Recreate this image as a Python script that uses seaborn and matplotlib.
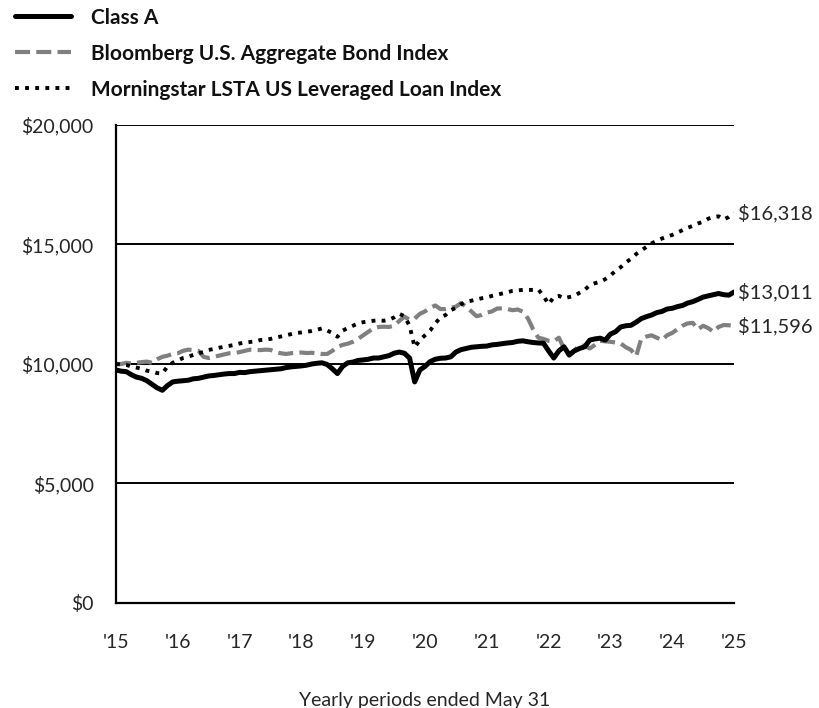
import numpy as np
import pandas as pd
import matplotlib
matplotlib.use("Agg")
import matplotlib.pyplot as plt
import seaborn as sns

# monthly values, May 2015 .. May 2025 (hypothetical $10,000 investment)
class_a = [
    9750, 9700, 9680, 9550, 9450, 9400, 9300, 9150, 9000, 8900, 9100, 9250,
    9280, 9300, 9320, 9380, 9400, 9450, 9500, 9520, 9550, 9580, 9600, 9600,
    9650, 9640, 9680, 9700, 9720, 9740, 9760, 9780, 9800, 9850, 9880, 9900,
    9920, 9950, 10000, 10030, 10050, 9980, 9800, 9600, 9900, 10050, 10080, 10150,
    10170, 10200, 10250, 10250, 10300, 10350, 10450, 10500, 10450, 10250, 9250, 9750,
    9900, 10100, 10200, 10240, 10250, 10300, 10500, 10600, 10650, 10700, 10720, 10740,
    10750, 10800, 10820, 10850, 10880, 10900, 10950, 10970, 10930, 10900, 10880, 10870,
    10550, 10250, 10550, 10720, 10380, 10550, 10650, 10720, 11000, 11050, 11080, 11000,
    11250, 11350, 11550, 11600, 11620, 11750, 11900, 11980, 12050, 12150, 12200, 12300,
    12330, 12400, 12450, 12550, 12610, 12700, 12800, 12850, 12900, 12950, 12900, 12880,
    13011,
]
bloomberg_agg = [
    10000, 10000, 10050, 10020, 10050, 10080, 10100, 10050, 10200, 10300, 10350, 10420,
    10450, 10550, 10600, 10580, 10550, 10300, 10250, 10300, 10350, 10400, 10450, 10450,
    10500, 10550, 10600, 10590, 10580, 10600, 10590, 10500, 10450, 10420, 10450, 10470,
    10480, 10460, 10470, 10450, 10420, 10420, 10550, 10720, 10800, 10850, 10930, 11050,
    11200, 11350, 11500, 11550, 11560, 11550, 11600, 11800, 11980, 11850, 11900, 12100,
    12200, 12350, 12450, 12300, 12300, 12350, 12400, 12550, 12400, 12200, 12000, 12050,
    12150, 12200, 12320, 12330, 12300, 12250, 12280, 12190, 11900, 11450, 11100, 11050,
    10970, 10950, 11100, 10650, 10350, 10550, 10800, 10750, 10650, 10800, 10970, 10950,
    10930, 10900, 10860, 10700, 10590, 10330, 11070, 11150, 11200, 11100, 11000, 11200,
    11300, 11450, 11600, 11700, 11720, 11450, 11600, 11500, 11350, 11550, 11630, 11620,
    11596,
]
lsta_loan = [
    10000, 9980, 9960, 9900, 9850, 9800, 9720, 9680, 9620, 9600, 9900, 10050,
    10150, 10250, 10300, 10380, 10450, 10500, 10590, 10630, 10680, 10720, 10760, 10800,
    10860, 10890, 10920, 10950, 11000, 11020, 11050, 11100, 11150, 11200, 11250, 11300,
    11320, 11350, 11380, 11430, 11490, 11400, 11300, 11140, 11400, 11500, 11600, 11700,
    11750, 11780, 11810, 11830, 11810, 11850, 11950, 12100, 12000, 11600, 10700, 11000,
    11200, 11400, 11700, 11950, 12050, 12250, 12350, 12500, 12600, 12650, 12700, 12750,
    12790, 12850, 12900, 12950, 13000, 13060, 13080, 13100, 13100, 13100, 13120, 12850,
    12500, 12800, 12850, 12750, 12800, 12850, 12980, 13100, 13300, 13380, 13440, 13550,
    13700, 13900, 14050, 14250, 14400, 14600, 14750, 14900, 15050, 15150, 15250, 15330,
    15400, 15500, 15600, 15700, 15780, 15880, 15950, 16080, 16150, 16180, 16050, 16150,
    16318,
]
year_labels = ["'15", "'16", "'17", "'18", "'19", "'20", "'21", "'22", "'23", "'24", "'25"]
series_names = ["Class A", "Bloomberg U.S. Aggregate Bond Index",
                "Morningstar LSTA US Leveraged Loan Index"]
end_labels = ["$13,011", "$11,596", "$16,318"]

months = np.arange(len(class_a))
df = pd.DataFrame({"month": months, "class_a": class_a,
                   "agg": bloomberg_agg, "lsta": lsta_loan})

sns.set_style("white")
plt.rcParams["font.family"] = ["Lato", "DejaVu Sans"]
txt_col = "#262626"

fig = plt.figure(figsize=(8.19, 7.08), dpi=100)
ax = fig.add_axes([116 / 819, 105 / 708, 618 / 819, 478 / 708])

sns.lineplot(data=df, x="month", y="agg", ax=ax, color="#808080", lw=3,
             linestyle=(0, (3.6, 1.5)), label=series_names[1])
sns.lineplot(data=df, x="month", y="lsta", ax=ax, color="black", lw=2.8,
             linestyle=(0, (1, 1.6)), label=series_names[2])
sns.lineplot(data=df, x="month", y="class_a", ax=ax, color="black", lw=3.6,
             label=series_names[0])

ax.set_xlim(0, 120)
ax.set_ylim(0, 20000)
ax.set_yticks([0, 5000, 10000, 15000, 20000])
ax.set_yticklabels(["$0", "$5,000", "$10,000", "$15,000", "$20,000"])
ax.set_xticks(np.arange(0, 121, 12))
ax.set_xticklabels(year_labels)
ax.tick_params(axis="y", length=0, pad=16, labelsize=14, colors=txt_col)
ax.tick_params(axis="x", length=7, width=1.3, color="black", pad=15,
               labelsize=14, labelcolor=txt_col, direction="out")
ax.yaxis.grid(True, color="black", lw=1.4)
ax.xaxis.grid(False)
ax.set_axisbelow(True)
for s in ["top", "right"]:
    ax.spines[s].set_visible(False)
for s in ["left", "bottom"]:
    ax.spines[s].set_color("black")
    ax.spines[s].set_linewidth(1.6)
ax.set_xlabel("Yearly periods ended May 31", fontsize=14, color=txt_col)
ax.xaxis.set_label_coords(0.5, -0.186)
ax.set_ylabel("")

# end-of-period values
for vals, txt in zip([class_a, bloomberg_agg, lsta_loan], end_labels):
    ax.annotate(txt, xy=(months[-1], vals[-1]), xytext=(3, 0),
                textcoords="offset points", va="center", ha="left",
                fontsize=14.5, color=txt_col, annotation_clip=False)

handles, labels = ax.get_legend_handles_labels()
order = [labels.index(n) for n in series_names]
ax.legend_.remove()
leg = fig.legend([handles[i] for i in order], [labels[i] for i in order],
                 loc="upper left", bbox_to_anchor=(0.0, 1.01), frameon=False,
                 prop={"weight": "bold", "size": 15}, handlelength=2.7,
                 handletextpad=0.95, labelspacing=0.77, borderaxespad=0.3)
for t in leg.get_texts():
    t.set_color("#111111")

fig.savefig("out.png", dpi=100)
